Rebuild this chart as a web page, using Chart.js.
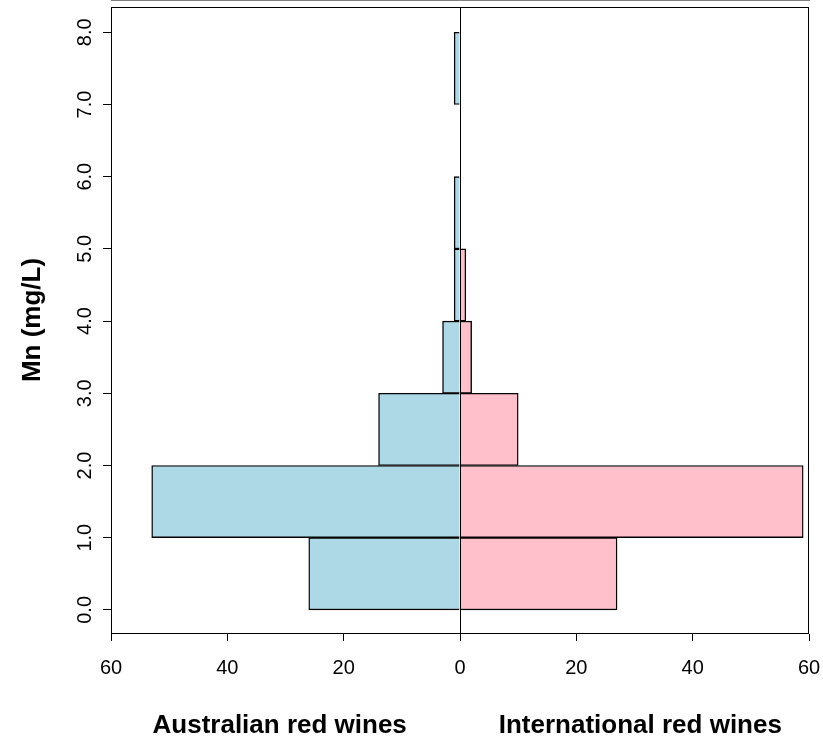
<!DOCTYPE html>
<html>
<head>
<meta charset="utf-8">
<script src="https://cdn.jsdelivr.net/npm/chart.js@4/dist/chart.umd.min.js"></script>
<style>
  html, body { margin: 0; padding: 0; background: #fff; }
  #c { display: block; }
</style>
</head>
<body>
<canvas id="c" width="823" height="737"></canvas>
<script>
// Histogram bins (Mn, mg/L): lower edges, bin width 1
const binStarts = [0, 1, 2, 3, 4, 5, 6, 7];
const binWidth = 1;
// Counts per bin
const australian = [26, 53, 14, 3, 1, 1, 0, 1];
const international = [27, 59, 10, 2, 1, 0, 0, 0];
// Axis ticks
const yTicks = [0, 1, 2, 3, 4, 5, 6, 7, 8];
const xTicks = [-60, -40, -20, 0, 20, 40, 60];
// Texts
const groupTitles = ['Australian red wines', 'International red wines'];
const yTitle = 'Mn (mg/L)';

const FONT = '"Liberation Sans", Arial, Helvetica, sans-serif';

const ausData = binStarts.map((b, i) => ({ x: -australian[i], y: b + binWidth / 2 }));
const intData = binStarts.map((b, i) => ({ x: international[i], y: b + binWidth / 2 }));

const framePlugin = {
  id: 'frame',
  afterDraw(chart) {
    const { ctx, chartArea: a, scales: { x } } = chart;
    ctx.save();
    ctx.strokeStyle = '#000';
    ctx.lineWidth = 1;
    ctx.strokeRect(a.left + 0.5, a.top + 0.5, a.right - a.left - 1, a.bottom - a.top);
    ctx.fillStyle = '#000';
    ctx.font = 'bold 26px ' + FONT;
    ctx.textAlign = 'center';
    ctx.textBaseline = 'alphabetic';
    const at = [-31, 31];
    groupTitles.forEach((t, i) => {
      ctx.fillText(t, x.getPixelForValue(at[i]), a.bottom + 100);
    });
    ctx.restore();
  }
};

new Chart(document.getElementById('c'), {
  type: 'bar',
  data: {
    datasets: [
      {
        label: groupTitles[0],
        data: ausData,
        backgroundColor: '#ADD8E6',
        borderColor: '#000',
        borderWidth: 1.4,
        borderSkipped: 'start',
        grouped: false,
        barPercentage: 1,
        categoryPercentage: 1
      },
      {
        label: groupTitles[1],
        data: intData,
        backgroundColor: '#FFC0CB',
        borderColor: '#000',
        borderWidth: 1.4,
        borderSkipped: 'start',
        grouped: false,
        barPercentage: 1,
        categoryPercentage: 1
      }
    ]
  },
  options: {
    indexAxis: 'y',
    responsive: false,
    animation: false,
    layout: { padding: { left: 0, top: 7, right: 14, bottom: 0 } },
    plugins: {
      legend: { display: false },
      tooltip: { enabled: false }
    },
    scales: {
      y: {
        type: 'linear',
        min: -0.32,
        max: 8.35,
        offset: false,
        afterBuildTicks: s => { s.ticks = yTicks.map(v => ({ value: v })); },
        afterFit: s => { s.width = 111; s.paddingTop = 0; s.paddingBottom = 0; },
        ticks: {
          autoSkip: false,
          minRotation: 90,
          maxRotation: 90,
          crossAlign: 'center',
          padding: 4,
          color: '#000',
          font: { family: FONT, size: 20 },
          callback: v => Number(v).toFixed(1)
        },
        grid: {
          offset: false,
          drawOnChartArea: false,
          drawTicks: true,
          tickLength: 8,
          tickColor: '#000',
          tickWidth: 1
        },
        border: { display: true, color: '#000', width: 1 },
        title: {
          display: true,
          text: yTitle,
          color: '#000',
          font: { family: FONT, size: 26, weight: 'bold' },
          padding: { top: 17, bottom: 0 }
        }
      },
      x: {
        type: 'linear',
        min: -60,
        max: 60,
        offset: false,
        afterBuildTicks: s => { s.ticks = xTicks.map(v => ({ value: v })); },
        afterFit: s => { s.height = 104; s.paddingLeft = 0; s.paddingRight = 0; },
        ticks: {
          autoSkip: false,
          maxRotation: 0,
          minRotation: 0,
          padding: 15,
          color: '#000',
          font: { family: FONT, size: 20 },
          callback: v => String(Math.abs(v))
        },
        grid: {
          z: 1,
          offset: false,
          drawOnChartArea: true,
          drawTicks: true,
          tickLength: 8,
          color: c => (c.tick && c.tick.value === 0 ? '#000' : 'rgba(0,0,0,0)'),
          tickColor: '#000',
          lineWidth: 1
        },
        border: { display: true, color: '#000', width: 1 }
      }
    }
  },
  plugins: [framePlugin]
});
</script>
</body>
</html>
